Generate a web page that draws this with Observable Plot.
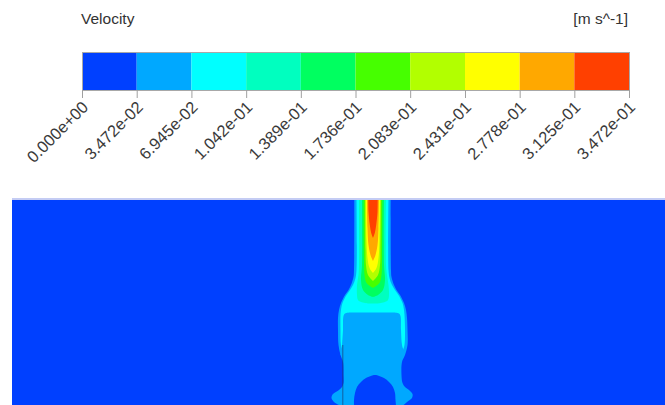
<!DOCTYPE html>
<html><head><meta charset="utf-8">
<script src="https://cdn.jsdelivr.net/npm/d3@7"></script>
<script src="https://cdn.jsdelivr.net/npm/@observablehq/plot@0.6"></script>
<style>
html,body{margin:0;padding:0;background:#fff;}
#root{position:relative;width:665px;height:405px;overflow:hidden;font-family:"Liberation Sans",Arial,sans-serif;color:#333}
.lbl{position:absolute;font-size:15.5px;line-height:18px;white-space:nowrap}
#field{filter:blur(0.5px)}
</style></head><body>
<div id="root">
 <div class="lbl" id="title" style="left:81px;top:10px"></div>
 <div class="lbl" id="unit" style="right:37px;top:10px"></div>
 <div id="bar" style="position:absolute;left:0;top:0"></div>
 <div id="field" style="position:absolute;left:0;top:198px"></div>
</div>
<script>
// ---- legend data ----
const quantity = "Velocity";
const unit = "[m s^-1]";
const levelThresholds = [0, 0.03472, 0.06945, 0.1042, 0.1389, 0.1736, 0.2083, 0.2431, 0.2778, 0.3125, 0.3472];
const tickLabels = ["0.000e+00","3.472e-02","6.945e-02","1.042e-01","1.389e-01","1.736e-01","2.083e-01","2.431e-01","2.778e-01","3.125e-01","3.472e-01"];
const levelColors = ["#0040ff","#00a8ff","#00ffff","#00ffbf","#00ff60","#46ff00","#b2ff00","#ffff00","#ffa800","#ff4000"];

// ---- field extent (x relative to jet axis, y = depth below inlet) ----
const fieldExtentX = [-360.5, 292.5];
const fieldExtentY = [0, 207];

// contour band outlines: [y, left, right]
const outerPlume = [[0,-18.2,18.2],[72,-18.5,18.5],[79,-19,19],[87,-21.5,21.5],[92,-24,24],[97,-27.5,27.5],[105,-31.5,31.5],[112,-33.5,33.5],[120,-34.5,34.5],[132,-34.5,35],[147,-34,35],[157,-32,32.5],[164,-29.5,29.5],[177,-29,29],[185,-29,30],[189,-30.5,32.5],[192,-33.5,36.5],[196,-39.5,40],[200,-41,39.5],[204,-38.5,34.5],[207,-33.5,31]];
const cyanSheath = [[0,-16,16],[72,-16,16],[80,-17,17],[87,-19.5,19.5],[92,-22.5,22.5],[97,-26,26],[105,-30,30],[112,-31.5,31.5],[117,-32,32],[132,-32,32.5],[147,-31.5,32],[152,-30,30.5]];
const bodyCore = [[114.5,-22,21],[115.5,-27.5,26.5],[118,-29,28],[132,-29.5,28.5],[147,-30.5,29.5],[152,-31,31],[157,-32,32.5]];
const tealBand = [[0,-13.5,13.5],[67,-13.5,13.5],[77,-14,14.5],[87,-15.5,16],[97,-15.5,16.5],[102,-14.5,15.5],[104,-11.5,12.5],[105.5,-4.5,5.5]];
const archGap = [[177,1.5,3.5],[180,-6.5,11.5],[184,-11.5,16.5],[189,-15.5,20.5],[195,-17.5,22.5],[202,-18.5,23],[207,-18.5,23.5]];

// jet core half-widths: [y, halfWidth], per level
const jetAxis = 0.5;
const greenCore  = [[0,11],[67,11],[82,12],[92,10],[97,5],[99,0]];
const limeCore   = [[0,9.3],[62,9],[77,8.5],[85,6.5],[90,0]];
const chartCore  = [[0,8],[52,7.5],[67,7],[77,5],[83,0]];
const yellowCore = [[0,7],[42,6.5],[60,5.5],[70,3.5],[75,0]];
const orangeCore = [[0,6],[30,5.5],[47,4.5],[57,2.5],[63,0]];
const redCore    = [[0,4.7],[14,4.5],[27,3.2],[35,1.8],[40,0]];

// mesh artefact line
const seamLine = [{x: -30.2, y1: 147, y2: 207}];

// ---- build ----
document.getElementById("title").textContent = quantity;
document.getElementById("unit").textContent = unit;

const colorScale = {type: "ordinal", domain: d3.range(levelColors.length), range: levelColors};

const bands = d3.range(10).map(i => ({level: i, x1: levelThresholds[i], x2: levelThresholds[i + 1]}));
const bar = Plot.plot({
  width: 665, height: 190, marginLeft: 82, marginRight: 36, marginTop: 52, marginBottom: 100,
  style: {fontFamily: "'Liberation Sans', Arial, sans-serif", fontSize: "16px", color: "#333", background: "transparent", overflow: "visible"},
  x: {domain: [levelThresholds[0], levelThresholds[levelThresholds.length - 1]], axis: null},
  color: colorScale,
  marks: [
    Plot.rect(bands, {x1: "x1", x2: "x2", fill: "level"}),
    Plot.frame({stroke: "#a8a8a8"}),
    Plot.axisX({ticks: levelThresholds, tickFormat: () => "", tickSize: 8, stroke: "#a0a0a0", label: null}),
    Plot.axisX({ticks: levelThresholds, tickFormat: d => tickLabels[levelThresholds.indexOf(d)], tickSize: 0, tickPadding: 14, dx: 3, fill: "#3a3a3a", tickRotate: -45, fontSize: 16.5, label: null})
  ]
});
document.getElementById("bar").appendChild(bar);

const rows = [];
const addBand = (name, level, arr) => arr.forEach(([y, l, r]) => rows.push({patch: name, level, y, l, r}));
const addCore = (name, level, arr) => arr.forEach(([y, h]) => rows.push({patch: name, level, y, l: jetAxis - h, r: jetAxis + h}));
addBand("outer", 1, outerPlume);
addBand("sheath", 2, cyanSheath);
addBand("body", 1, bodyCore);
addBand("teal", 3, tealBand);
addCore("green", 4, greenCore);
addCore("lime", 5, limeCore);
addCore("chart", 6, chartCore);
addCore("yellow", 7, yellowCore);
addCore("orange", 8, orangeCore);
addCore("red", 9, redCore);
addBand("arch", 0, archGap);

const field = Plot.plot({
  width: 665, height: 207, marginLeft: 12, marginRight: 0, marginTop: 0, marginBottom: 0,
  style: {background: "transparent"},
  x: {domain: fieldExtentX, axis: null},
  y: {domain: fieldExtentY, axis: null, reverse: true},
  color: colorScale,
  marks: [
    Plot.rect([{level: 0}], {fill: "level"}),
    Plot.areaX(rows, {y: "y", x1: "l", x2: "r", z: "patch", fill: "level", curve: "catmull-rom"}),
    Plot.ruleX(seamLine, {x: "x", y1: "y1", y2: "y2", stroke: "#203060", strokeOpacity: 0.6}),
    Plot.ruleY([fieldExtentY[0]], {stroke: "#c4ccf4", strokeWidth: 3})
  ]
});
document.getElementById("field").appendChild(field);
</script>
</body></html>
